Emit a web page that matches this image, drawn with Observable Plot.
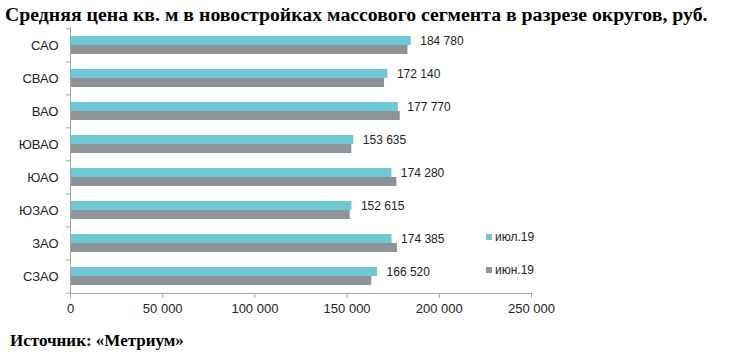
<!DOCTYPE html>
<html><head><meta charset="utf-8">
<script src="https://cdn.jsdelivr.net/npm/d3@7"></script>
<script src="https://cdn.jsdelivr.net/npm/@observablehq/plot@0.6"></script>
<style>
body{margin:0;background:#fff;}
#wrap{position:relative;width:730px;height:364px;overflow:hidden;font-family:"Liberation Sans",Arial,sans-serif;background:#fff;}
#title{position:absolute;left:5px;top:3px;font-family:"Liberation Serif","Times New Roman",serif;font-weight:bold;font-size:19.8px;white-space:nowrap;color:#000;}
#chart{position:absolute;left:0;top:22px;}
#caption{position:absolute;left:10px;top:331px;font-family:"Liberation Serif","Times New Roman",serif;font-weight:bold;font-size:17px;white-space:nowrap;color:#000;}
#legend{position:absolute;left:486px;top:229px;font-size:12px;color:#222;}
#legend .item{display:flex;align-items:center;height:16px;margin-bottom:17px;}
#legend .sw{width:6px;height:6px;margin-right:3px;}
</style>
</head><body>
<div id="wrap">
  <div id="title"></div>
  <div id="chart"></div>
  <div id="legend"></div>
  <div id="caption"></div>
</div>
<script>
const titleText = "Средняя цена кв. м в новостройках массового сегмента в разрезе округов, руб.";
const captionText = "Источник: «Метриум»";
const districts = ["САО","СВАО","ВАО","ЮВАО","ЮАО","ЮЗАО","ЗАО","СЗАО"];
const jul19 = [184780,172140,177770,153635,174280,152615,174385,166520];
const jun19 = [183000,170300,178800,152550,177000,151700,177300,163400];
const seriesNames = ["июл.19","июн.19"];
const seriesColors = ["#6FC9D5","#8E9398"];
const xTicks = [0,50000,100000,150000,200000,250000];

document.getElementById("title").textContent = titleText;
document.getElementById("caption").textContent = captionText;

const fmt = d3.formatLocale({decimal:",", thousands:"\u00a0", grouping:[3], currency:["",""]}).format(",d");
const table = districts.map((d,i)=>({district:d, jul:jul19[i], jun:jun19[i]}));

const W = 730, H = 301, mT = 5, mB = 30, mL = 70, mR = 199;
const step = (H - mT - mB) / districts.length;
const padIn = 0.46;
const bw = step * (1 - padIn);

const chart = Plot.plot({
  width: W, height: H,
  marginLeft: mL, marginRight: mR, marginTop: mT, marginBottom: mB,
  style: {fontFamily: "Liberation Sans, Arial, sans-serif", fontSize: "13px", color: "#222", background: "transparent"},
  x: {domain: [0, 250000], label: null},
  y: {domain: districts, paddingInner: padIn, paddingOuter: padIn/2, label: null, axis: null},
  marks: [
    Plot.barX(table, {x: "jul", y: "district", fill: seriesColors[0], insetBottom: bw/2}),
    Plot.barX(table, {x: "jun", y: "district", fill: seriesColors[1], insetTop: bw/2}),
    Plot.frame({anchor: "left", stroke: "#a6a6a6"}),
    Plot.frame({anchor: "bottom", stroke: "#a6a6a6"}),
    Plot.ruleY(districts, {y: d => d, x1: -2200, x2: 0, dy: -step/2, stroke: "#a6a6a6"}),
    Plot.ruleY([districts[districts.length-1]], {y: d => d, x1: -2200, x2: 0, dy: step/2, stroke: "#a6a6a6"}),
    Plot.axisX({ticks: xTicks, tickFormat: fmt, tickSize: 5, tickPadding: 5, stroke: "#a6a6a6", fill: "#222", label: null}),
    Plot.axisY({tickSize: 0, tickPadding: 12, label: null, fill: "#222"}),
    Plot.text(table, {x: "jul", y: "district", text: d => fmt(d.jul), textAnchor: "start", dx: 9, dy: -4, fontSize: 12, fill: "#222"})
  ]
});
document.getElementById("chart").appendChild(chart);

const legend = document.getElementById("legend");
seriesNames.forEach((n,i)=>{
  const it = document.createElement("div"); it.className = "item";
  const sw = document.createElement("span"); sw.className = "sw"; sw.style.background = seriesColors[i];
  const tx = document.createElement("span"); tx.textContent = n;
  it.appendChild(sw); it.appendChild(tx); legend.appendChild(it);
});
</script>
</body></html>
